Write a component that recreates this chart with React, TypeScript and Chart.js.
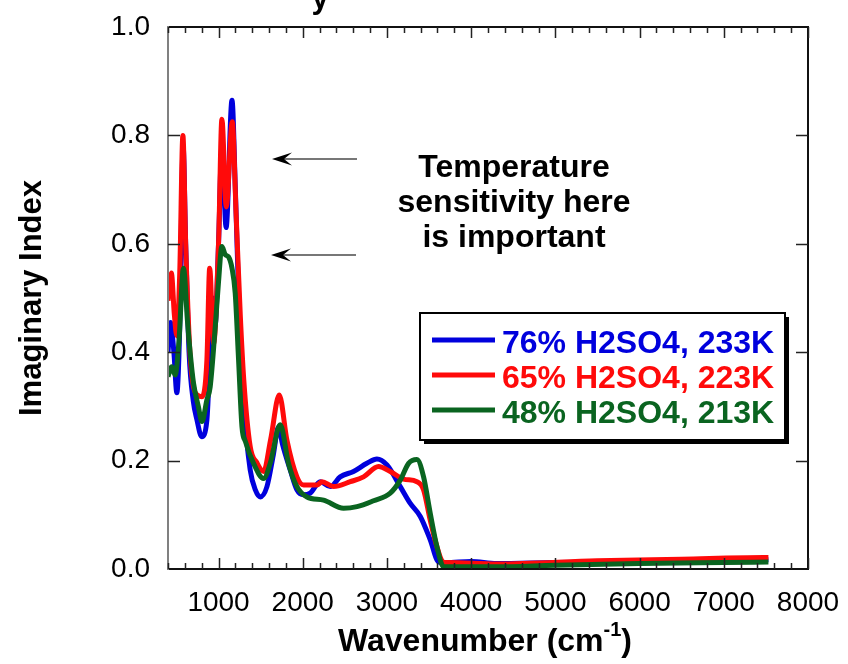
import React, { useEffect, useRef } from "react";
import { Chart, registerables } from "chart.js";

Chart.register(...registerables);

const blueWn = [400, 430, 470, 505, 540, 580, 610, 650, 700, 744, 800, 862, 900, 930, 960, 1000, 1040, 1090, 1160, 1200, 1250, 1300, 1376, 1440, 1495, 1575, 1650, 1713, 1760, 1851, 1931, 2010, 2089, 2208, 2327, 2445, 2603, 2762, 2881, 3000, 3158, 3277, 3396, 3514, 3614, 3700, 4000, 4300, 5000, 6000, 7000, 7530];
const blueK = [0.40, 0.455, 0.40, 0.325, 0.45, 0.78, 0.60, 0.40, 0.31, 0.275, 0.244, 0.275, 0.40, 0.50, 0.45, 0.60, 0.78, 0.63, 0.865, 0.70, 0.45, 0.30, 0.183, 0.145, 0.133, 0.152, 0.21, 0.262, 0.23, 0.183, 0.146, 0.137, 0.14, 0.161, 0.152, 0.170, 0.18, 0.195, 0.203, 0.192, 0.152, 0.121, 0.097, 0.054, 0.013, 0.012, 0.014, 0.010, 0.012, 0.013, 0.015, 0.017];

const redWn = [400, 440, 475, 505, 540, 577, 610, 660, 703, 760, 803, 862, 895, 941, 1000, 1040, 1092, 1163, 1210, 1258, 1300, 1376, 1456, 1535, 1620, 1721, 1812, 1931, 2010, 2169, 2228, 2366, 2564, 2722, 2900, 3039, 3197, 3356, 3435, 3514, 3594, 3673, 3713, 4306, 5494, 6500, 7470, 7530];
const redK = [0.495, 0.546, 0.47, 0.43, 0.55, 0.80, 0.60, 0.40, 0.336, 0.32, 0.318, 0.386, 0.555, 0.416, 0.60, 0.83, 0.668, 0.825, 0.65, 0.47, 0.349, 0.226, 0.196, 0.18, 0.24, 0.321, 0.238, 0.170, 0.155, 0.155, 0.161, 0.152, 0.161, 0.170, 0.189, 0.18, 0.166, 0.161, 0.146, 0.09, 0.041, 0.012, 0.012, 0.009, 0.015, 0.018, 0.021, 0.021];

const greenWn = [400, 445, 485, 530, 584, 630, 664, 703, 760, 803, 862, 901, 961, 1000, 1040, 1080, 1119, 1160, 1198, 1238, 1278, 1320, 1416, 1535, 1614, 1733, 1831, 1931, 2050, 2247, 2485, 2644, 2841, 3039, 3158, 3257, 3356, 3435, 3514, 3594, 3673, 3750, 4300, 5000, 6000, 7000, 7530];
const greenK = [0.355, 0.373, 0.358, 0.42, 0.555, 0.46, 0.398, 0.343, 0.30, 0.272, 0.312, 0.336, 0.447, 0.53, 0.595, 0.58, 0.576, 0.555, 0.509, 0.386, 0.263, 0.235, 0.195, 0.167, 0.195, 0.266, 0.195, 0.152, 0.133, 0.127, 0.112, 0.115, 0.126, 0.140, 0.164, 0.195, 0.202, 0.170, 0.103, 0.041, 0.004, 0.004, 0.004, 0.007, 0.010, 0.012, 0.013];

const xTickValues = [1000, 2000, 3000, 4000, 5000, 6000, 7000, 8000];
const yTickValues = [0, 0.2, 0.4, 0.6, 0.8, 1.0];

const seriesLabels = ["76% H2SO4, 233K", "65% H2SO4, 223K", "48% H2SO4, 213K"];
const seriesColors = ["#0000DD", "#FF0A0A", "#0A6420"];
const noteLines = ["Temperature", "sensitivity here", "is important"];
const xTitle = "Wavenumber (cm";
const xTitleSup = "-1";
const yTitle = "Imaginary Index";
const topTitleFragment = "y";

const FONT = "'Liberation Sans', Arial, Helvetica, sans-serif";

const pairs = (xs: number[], ys: number[]) => xs.map((x, i) => ({ x, y: ys[i] }));

const decorPlugin = {
  id: "decor",
  afterDraw(chart: any) {
    const ctx = chart.ctx as CanvasRenderingContext2D;
    const { left, right, top, bottom } = chart.chartArea;
    const xs = chart.scales.x;
    const ys = chart.scales.y;
    ctx.save();

    // frame
    ctx.lineWidth = 2;
    ctx.strokeStyle = "#111";
    ctx.beginPath();
    ctx.moveTo(left, top);
    ctx.lineTo(right, top);
    ctx.lineTo(right, bottom);
    ctx.lineTo(left, bottom);
    ctx.stroke();
    ctx.strokeStyle = "#808080";
    ctx.beginPath();
    ctx.moveTo(left, top - 1);
    ctx.lineTo(left, bottom + 1);
    ctx.stroke();

    // x ticks (major 1000, minor 200), inward top and bottom
    ctx.lineWidth = 1.5;
    ctx.strokeStyle = "#222";
    for (let v = 400; v <= 8000; v += 200) {
      const px = Math.round(xs.getPixelForValue(v)) + 0.5;
      const len = v % 1000 === 0 ? 11 : 6;
      ctx.beginPath();
      ctx.moveTo(px, bottom);
      ctx.lineTo(px, bottom - len);
      ctx.moveTo(px, top);
      ctx.lineTo(px, top + len);
      ctx.stroke();
    }
    // y ticks
    yTickValues.slice(1, -1).forEach((v) => {
      const py = Math.round(ys.getPixelForValue(v)) + 0.5;
      ctx.beginPath();
      ctx.moveTo(left, py);
      ctx.lineTo(left + 12, py);
      ctx.moveTo(right, py);
      ctx.lineTo(right - 12, py);
      ctx.stroke();
    });

    // arrows
    const arrow = (y: number, x0: number, x1: number) => {
      ctx.strokeStyle = "#777";
      ctx.lineWidth = 2;
      ctx.beginPath();
      ctx.moveTo(x1, y);
      ctx.lineTo(x0 + 10, y);
      ctx.stroke();
      ctx.fillStyle = "#000";
      ctx.beginPath();
      ctx.moveTo(x0, y);
      ctx.lineTo(x0 + 20, y - 6.5);
      ctx.lineTo(x0 + 12, y);
      ctx.lineTo(x0 + 20, y + 6.5);
      ctx.closePath();
      ctx.fill();
    };
    arrow(159, 272, 357);
    arrow(255, 271, 356);

    // annotation
    ctx.fillStyle = "#000";
    ctx.font = `bold 32px ${FONT}`;
    ctx.textAlign = "center";
    ctx.textBaseline = "alphabetic";
    const noteBase = [177, 212, 247];
    noteLines.forEach((t, i) => ctx.fillText(t, 514, noteBase[i]));

    // legend box
    ctx.fillStyle = "#000";
    ctx.fillRect(424, 317, 365, 127);
    ctx.fillStyle = "#fff";
    ctx.fillRect(420, 313, 365, 127);
    ctx.strokeStyle = "#000";
    ctx.lineWidth = 2;
    ctx.strokeRect(420, 313, 365, 127);
    const legY = [340, 375, 410];
    const legBase = [353, 388, 423];
    seriesLabels.forEach((lab, i) => {
      ctx.strokeStyle = seriesColors[i];
      ctx.lineWidth = 5;
      ctx.beginPath();
      ctx.moveTo(432, legY[i]);
      ctx.lineTo(495, legY[i]);
      ctx.stroke();
      ctx.fillStyle = seriesColors[i];
      ctx.textAlign = "left";
      ctx.font = `bold 32px ${FONT}`;
      ctx.fillText(lab, 502, legBase[i]);
    });

    // axis titles
    ctx.fillStyle = "#000";
    ctx.font = `bold 32px ${FONT}`;
    const mainW = ctx.measureText(xTitle).width;
    ctx.font = `bold 20px ${FONT}`;
    const supW = ctx.measureText(xTitleSup).width;
    ctx.font = `bold 32px ${FONT}`;
    const closeW = ctx.measureText(")").width;
    const total = mainW + supW + closeW;
    const cx = (left + right) / 2 - 3;
    let sx = cx - total / 2;
    ctx.textAlign = "left";
    ctx.fillText(xTitle, sx, 651);
    sx += mainW;
    ctx.font = `bold 20px ${FONT}`;
    ctx.fillText(xTitleSup, sx, 636);
    sx += supW;
    ctx.font = `bold 32px ${FONT}`;
    ctx.fillText(")", sx, 651);

    ctx.save();
    ctx.translate(41, (top + bottom) / 2);
    ctx.rotate(-Math.PI / 2);
    ctx.textAlign = "center";
    ctx.font = `bold 31px ${FONT}`;
    ctx.fillText(yTitle, 0, 0);
    ctx.restore();

    // cropped top title fragment
    ctx.textAlign = "center";
    ctx.font = `bold 31px ${FONT}`;
    ctx.fillText(topTitleFragment, 320, 8);

    ctx.restore();
  },
};

export default function App() {
  const ref = useRef<HTMLCanvasElement | null>(null);
  useEffect(() => {
    if (!ref.current) return;
    Chart.defaults.font.family = FONT;
    const chart = new Chart(ref.current, {
      type: "line",
      data: {
        datasets: [
          { label: seriesLabels[0], data: pairs(blueWn, blueK), borderColor: seriesColors[0], order: 2 },
          { label: seriesLabels[1], data: pairs(redWn, redK), borderColor: seriesColors[1], order: 1 },
          { label: seriesLabels[2], data: pairs(greenWn, greenK), borderColor: seriesColors[2], order: 0 },
        ].map((d) => ({ ...d, borderWidth: 5, pointRadius: 0, fill: false, cubicInterpolationMode: "monotone" as const })),
      },
      options: {
        animation: false,
        responsive: true,
        maintainAspectRatio: false,
        events: [],
        layout: { padding: { top: 27, right: 40, left: 0, bottom: 0 } },
        plugins: { legend: { display: false }, tooltip: { enabled: false }, title: { display: false } },
        scales: {
          x: {
            type: "linear",
            min: 400,
            max: 8000,
            grid: { display: false, drawTicks: false },
            border: { display: false },
            afterFit: (s: any) => {
              s.height = 95;
              s.paddingLeft = 0;
              s.paddingRight = 0;
            },
            afterBuildTicks: (s: any) => {
              s.ticks = xTickValues.map((value) => ({ value }));
            },
            ticks: {
              autoSkip: false,
              maxRotation: 0,
              padding: 17,
              color: "#000",
              font: { size: 28, family: FONT },
              callback: (v: any) => String(v),
            },
          },
          y: {
            min: 0,
            max: 1,
            grid: { display: false, drawTicks: false },
            border: { display: false },
            afterFit: (s: any) => {
              s.width = 168;
              s.paddingTop = 0;
              s.paddingBottom = 0;
            },
            afterBuildTicks: (s: any) => {
              s.ticks = yTickValues.map((value) => ({ value }));
            },
            ticks: {
              padding: 18,
              color: "#000",
              font: { size: 28, family: FONT },
              callback: (v: any) => Number(v).toFixed(1),
            },
          },
        },
      },
      plugins: [decorPlugin],
    });
    return () => chart.destroy();
  }, []);
  return (
    <div style={{ position: "fixed", left: 0, top: 0, width: 848, height: 664, background: "#fff" }}>
      <canvas ref={ref} style={{ width: "848px", height: "664px" }} />
    </div>
  );
}
